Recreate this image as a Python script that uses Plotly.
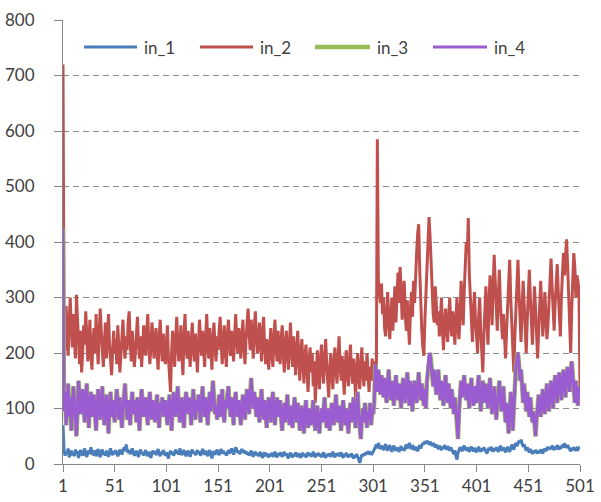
import plotly.graph_objects as go

# ---- data ----
in_1 = [
    70, 25, 15, 22, 18, 28, 12, 20, 24, 16,
    21, 14, 26, 19, 23, 11, 18, 25, 20, 15,
    22, 28, 17, 13, 21, 24, 18, 30, 22, 16,
    19, 25, 14, 20, 27, 18, 12, 22, 26, 17,
    21, 15, 24, 19, 13, 22, 28, 20, 16, 23,
    18, 25, 21, 14, 19, 26, 22, 17, 24, 30,
    23, 35, 27, 20, 25, 18, 22, 28, 21, 15,
    19, 24, 17, 13, 21, 26, 18, 22, 15, 20,
    25, 19, 14, 22, 17, 11, 20, 24, 18, 23,
    16, 21, 27, 19, 14, 22, 18, 25, 20, 15,
    21, 17, 10, 19, 24, 18, 22, 15, 20, 26,
    19, 23, 17, 28, 21, 16, 22, 25, 18, 14,
    20, 24, 18, 13, 21, 26, 19, 22, 16, 20,
    25, 18, 23, 15, 20, 27, 21, 17, 24, 19,
    14, 21, 25, 18, 10, 19, 23, 17, 22, 26,
    20, 16, 22, 27, 19, 24, 18, 21, 15, 20,
    25, 19, 23, 28, 22, 17, 24, 30, 26, 20,
    24, 18, 22, 27, 21, 25, 19, 23, 17, 21,
    15, 20, 24, 18, 13, 19, 22, 16, 20, 14,
    18, 22, 15, 11, 17, 21, 14, 19, 16, 12,
    18, 15, 20, 13, 17, 22, 16, 12, 19, 15,
    21, 17, 13, 18, 22, 15, 19, 14, 10, 17,
    20, 16, 12, 18, 14, 21, 17, 13, 19, 15,
    11, 17, 20, 14, 18, 12, 16, 21, 15, 19,
    13, 17, 22, 16, 12, 19, 15, 20, 14, 18,
    12, 17, 21, 15, 11, 18, 14, 19, 16, 13,
    18, 22, 16, 12, 19, 15, 20, 14, 17, 21,
    15, 11, 18, 14, 20, 16, 12, 17, 13, 19,
    15, 10, 16, 12, 18, 14, 8, 2, 12, 17,
    14, 19, 16, 21, 18, 23, 20, 17, 22, 19,
    22, 26, 30, 35, 28, 38, 32, 27, 33, 29,
    25, 31, 36, 28, 24, 30, 34, 27, 22, 29,
    33, 27, 24, 30, 26, 22, 28, 32, 25, 29,
    24, 30, 35, 28, 33, 38, 31, 27, 34, 29,
    25, 31, 27, 23, 29, 34, 28, 32, 38, 35,
    41, 37, 42, 38, 35, 40, 36, 33, 38, 34,
    30, 35, 31, 27, 33, 29, 25, 31, 28, 34,
    30, 26, 32, 28, 24, 30, 27, 22, 18, 25,
    14, 8, 20, 26, 30, 27, 23, 29, 33, 28,
    24, 30, 26, 22, 28, 31, 27, 23, 29, 25,
    21, 27, 31, 26, 22, 28, 24, 30, 27, 23,
    19, 25, 29, 24, 31, 27, 22, 28, 25, 30,
    26, 22, 28, 33, 27, 24, 30, 26, 21, 27,
    31, 25, 22, 28, 35, 30, 26, 33, 38, 32,
    36, 42, 38, 44, 37, 31, 35, 28, 24, 30,
    26, 21, 27, 23, 18, 24, 20, 25, 22, 19,
    24, 20, 26, 22, 19, 25, 28, 23, 27, 31,
    26, 30, 27, 33, 29, 25, 31, 27, 34, 30,
    26, 32, 28, 35, 30, 37, 33, 29, 34, 31,
    27, 23, 29, 25, 30, 27, 24, 28, 26, 29,
    27,
]

in_2 = [
    720, 240, 205, 285, 230, 195, 260, 300, 245, 210,
    270, 225, 190, 305, 255, 215, 180, 240, 165, 200,
    250, 215, 275, 230, 185, 210, 260, 195, 170, 225,
    245, 200, 270, 215, 180, 235, 280, 240, 200, 175,
    215, 255, 190, 230, 270, 215, 185, 160, 205, 240,
    200, 225, 180, 250, 210, 165, 195, 235, 260, 215,
    190, 230, 205, 255, 275, 220, 185, 240, 210, 175,
    200, 245, 265, 215, 190, 230, 175, 205, 250, 225,
    195, 240, 270, 215, 180, 210, 255, 230, 190, 220,
    245, 200, 170, 225, 260, 215, 185, 235, 205, 180,
    215, 250, 190, 160, 130, 200, 240, 210, 175, 225,
    265, 220, 185, 205, 250, 195, 160, 230, 270, 215,
    190, 240, 205, 175, 220, 255, 210, 185, 235, 200,
    165, 215, 260, 225, 195, 240, 205, 175, 230, 270,
    215, 190, 245, 200, 170, 225, 255, 210, 185, 230,
    205, 240, 265, 215, 180, 225, 250, 200, 175, 235,
    260, 220, 195, 240, 210, 185, 230, 270, 225, 200,
    245, 215, 190, 235, 260, 210, 180, 225, 250, 280,
    235, 205, 260, 220, 190, 245, 275, 230, 200, 215,
    255, 220, 185, 240, 265, 210, 180, 225, 200, 170,
    215, 245, 200, 175, 230, 260, 210, 185, 240, 205,
    180, 225, 250, 200, 165, 215, 240, 195, 170, 220,
    255, 205, 175, 230, 195, 160, 210, 240, 190, 150,
    200, 225, 180, 145, 195, 215, 170, 130, 185, 210,
    165, 200, 140, 185, 110, 175, 205, 160, 135, 190,
    215, 170, 145, 190, 225, 180, 150, 120, 175, 200,
    160, 135, 185, 210, 170, 145, 190, 230, 175, 150,
    195, 165, 125, 180, 205, 160, 140, 185, 215, 170,
    145, 190, 160, 120, 175, 200, 155, 135, 180, 210,
    165, 140, 185, 150, 200, 170, 130, 175, 150, 190,
    170, 150, 185, 140, 585, 330, 310, 290, 325, 270,
    300, 245, 230, 280, 310, 255, 225, 265, 300, 240,
    280, 320, 255, 300, 345, 290, 355, 315, 260, 300,
    330, 270, 240, 295, 250, 215, 275, 310, 265, 330,
    290, 345, 380, 415, 432, 350, 280, 240, 210, 195,
    260, 310, 360, 400, 445, 410, 350, 300, 270, 255,
    320, 290, 250, 275, 230, 260, 300, 240, 205, 255,
    280, 240, 220, 265, 300, 250, 230, 275, 245, 215,
    260, 300, 245, 225, 270, 330, 295, 250, 310, 360,
    400, 380, 443, 340, 290, 250, 220, 280, 310, 255,
    230, 200, 265, 300, 240, 190, 165, 230, 280, 320,
    260, 215, 290, 340, 300, 250, 320, 377, 330, 275,
    240, 300, 350, 290, 250, 225, 270, 210, 190, 240,
    280, 330, 368, 300, 250, 200, 165, 230, 290, 340,
    368, 310, 260, 220, 280, 330, 290, 240, 200, 260,
    310, 350, 300, 250, 215, 270, 320, 280, 235, 190,
    240, 290, 330, 280, 230, 260, 310, 270, 225, 250,
    300, 340, 370, 320, 280, 240, 290, 330, 360, 310,
    270, 230, 300, 350, 380, 340, 390, 405, 360, 300,
    250, 200, 280, 340, 380, 355, 300, 340, 330, 310,
    140,
]

in_3 = [
    425, 95, 130, 70, 110, 145, 85, 120, 60, 100,
    140, 115, 75, 50, 95, 150, 125, 90, 110, 135,
    100, 75, 120, 145, 95, 65, 110, 130, 85, 105,
    125, 90, 60, 100, 135, 115, 80, 105, 140, 95,
    70, 110, 125, 90, 55, 100, 130, 85, 115, 95,
    75, 105, 135, 110, 80, 120, 95, 65, 100, 125,
    145, 105, 80, 115, 95, 70, 110, 130, 90, 115,
    100, 75, 120, 95, 60, 105, 135, 110, 85, 100,
    120, 90, 70, 110, 130, 95, 80, 115, 100, 75,
    105, 125, 90, 65, 110, 95, 120, 85, 100, 115,
    90, 70, 105, 125, 95, 60, 100, 130, 110, 85,
    115, 140, 100, 75, 95, 120, 85, 65, 105, 130,
    110, 90, 120, 95, 70, 105, 135, 100, 80, 115,
    95, 125, 105, 75, 115, 140, 100, 85, 120, 95,
    70, 110, 130, 95, 115, 150, 120, 90, 105, 80,
    100, 125, 85, 110, 135, 95, 75, 115, 100, 125,
    140, 105, 85, 120, 95, 70, 110, 130, 100, 85,
    115, 95, 70, 105, 125, 100, 80, 115, 135, 110,
    90, 125, 155, 120, 100, 130, 110, 85, 120, 95,
    75, 110, 135, 100, 80, 115, 95, 65, 105, 120,
    95, 75, 110, 130, 90, 70, 105, 120, 85, 100,
    115, 80, 60, 95, 110, 75, 100, 125, 90, 70,
    105, 85, 65, 100, 120, 90, 75, 110, 95, 60,
    85, 105, 75, 55, 95, 115, 80, 65, 100, 85,
    70, 95, 115, 80, 60, 90, 105, 75, 55, 85,
    100, 75, 95, 120, 85, 65, 100, 80, 60, 90,
    110, 85, 70, 100, 125, 90, 75, 105, 80, 60,
    95, 115, 85, 70, 100, 80, 55, 90, 110, 75,
    95, 120, 85, 65, 100, 130, 90, 70, 45, 80,
    100, 75, 110, 90, 65, 95, 80, 110, 70, 95,
    90, 110, 180, 150, 130, 170, 145, 125, 160, 140,
    120, 155, 135, 110, 145, 170, 130, 115, 150, 125,
    105, 140, 160, 130, 115, 145, 120, 100, 135, 155,
    125, 110, 140, 165, 130, 105, 150, 120, 95, 135,
    150, 125, 110, 140, 165, 135, 115, 145, 120, 105,
    135, 100, 150, 175, 195, 200, 185, 160, 140, 170,
    150, 125, 145, 170, 135, 115, 150, 130, 105, 140,
    160, 130, 110, 145, 125, 100, 135, 115, 90, 120,
    100, 75, 45, 95, 130, 150, 120, 140, 160, 130,
    115, 145, 125, 100, 135, 155, 120, 105, 140, 125,
    110, 140, 160, 130, 95, 120, 150, 135, 110, 145,
    125, 100, 130, 155, 120, 90, 115, 140, 110, 80,
    105, 130, 150, 120, 95, 115, 140, 100, 75, 110,
    85, 55, 90, 130, 110, 60, 100, 150, 175, 190,
    201, 180, 150, 170, 135, 110, 145, 120, 95, 130,
    110, 85, 120, 100, 75, 95, 65, 50, 80, 110,
    125, 100, 85, 115, 135, 105, 90, 120, 145, 110,
    95, 130, 150, 120, 100, 140, 160, 130, 110, 150,
    165, 135, 115, 150, 170, 140, 120, 160, 175, 150,
    130, 165, 185, 160, 135, 110, 150, 125, 105, 140,
    125,
]

in_4 = [
    425, 95, 130, 70, 110, 145, 85, 120, 60, 100,
    140, 115, 75, 50, 95, 150, 125, 90, 110, 135,
    100, 75, 120, 145, 95, 65, 110, 130, 85, 105,
    125, 90, 60, 100, 135, 115, 80, 105, 140, 95,
    70, 110, 125, 90, 55, 100, 130, 85, 115, 95,
    75, 105, 135, 110, 80, 120, 95, 65, 100, 125,
    145, 105, 80, 115, 95, 70, 110, 130, 90, 115,
    100, 75, 120, 95, 60, 105, 135, 110, 85, 100,
    120, 90, 70, 110, 130, 95, 80, 115, 100, 75,
    105, 125, 90, 65, 110, 95, 120, 85, 100, 115,
    90, 70, 105, 125, 95, 60, 100, 130, 110, 85,
    115, 140, 100, 75, 95, 120, 85, 65, 105, 130,
    110, 90, 120, 95, 70, 105, 135, 100, 80, 115,
    95, 125, 105, 75, 115, 140, 100, 85, 120, 95,
    70, 110, 130, 95, 115, 150, 120, 90, 105, 80,
    100, 125, 85, 110, 135, 95, 75, 115, 100, 125,
    140, 105, 85, 120, 95, 70, 110, 130, 100, 85,
    115, 95, 70, 105, 125, 100, 80, 115, 135, 110,
    90, 125, 155, 120, 100, 130, 110, 85, 120, 95,
    75, 110, 135, 100, 80, 115, 95, 65, 105, 120,
    95, 75, 110, 130, 90, 70, 105, 120, 85, 100,
    115, 80, 60, 95, 110, 75, 100, 125, 90, 70,
    105, 85, 65, 100, 120, 90, 75, 110, 95, 60,
    85, 105, 75, 55, 95, 115, 80, 65, 100, 85,
    70, 95, 115, 80, 60, 90, 105, 75, 55, 85,
    100, 75, 95, 120, 85, 65, 100, 80, 60, 90,
    110, 85, 70, 100, 125, 90, 75, 105, 80, 60,
    95, 115, 85, 70, 100, 80, 55, 90, 110, 75,
    95, 120, 85, 65, 100, 130, 90, 70, 45, 80,
    100, 75, 110, 90, 65, 95, 80, 110, 70, 95,
    90, 110, 180, 150, 130, 170, 145, 125, 160, 140,
    120, 155, 135, 110, 145, 170, 130, 115, 150, 125,
    105, 140, 160, 130, 115, 145, 120, 100, 135, 155,
    125, 110, 140, 165, 130, 105, 150, 120, 95, 135,
    150, 125, 110, 140, 165, 135, 115, 145, 120, 105,
    135, 100, 150, 175, 195, 200, 185, 160, 140, 170,
    150, 125, 145, 170, 135, 115, 150, 130, 105, 140,
    160, 130, 110, 145, 125, 100, 135, 115, 90, 120,
    100, 75, 45, 95, 130, 150, 120, 140, 160, 130,
    115, 145, 125, 100, 135, 155, 120, 105, 140, 125,
    110, 140, 160, 130, 95, 120, 150, 135, 110, 145,
    125, 100, 130, 155, 120, 90, 115, 140, 110, 80,
    105, 130, 150, 120, 95, 115, 140, 100, 75, 110,
    85, 55, 90, 130, 110, 60, 100, 150, 175, 190,
    201, 180, 150, 170, 135, 110, 145, 120, 95, 130,
    110, 85, 120, 100, 75, 95, 65, 50, 80, 110,
    125, 100, 85, 115, 135, 105, 90, 120, 145, 110,
    95, 130, 150, 120, 100, 140, 160, 130, 110, 150,
    165, 135, 115, 150, 170, 140, 120, 160, 175, 150,
    130, 165, 185, 160, 135, 110, 150, 125, 105, 140,
    125,
]

x_idx = list(range(1, len(in_1) + 1))
tick_vals = [1, 51, 101, 151, 201, 251, 301, 351, 401, 451, 501]
tick_text = [str(v) for v in tick_vals]
y_ticks = [0, 100, 200, 300, 400, 500, 600, 700, 800]
series_names = ["in_1", "in_2", "in_3", "in_4"]

colors = ["#4A7EBB", "#C0504D", "#9BBB59", "#9B5CD2"]
widths = [3.0, 3.0, 4.5, 3.0]
series_vals = [in_1, in_2, in_3, in_4]

fig = go.Figure()
for name, vals, color, w in zip(series_names, series_vals, colors, widths):
    fig.add_trace(go.Scatter(
        x=x_idx, y=vals, mode="lines", name=name,
        line=dict(color=color, width=w), showlegend=False,
    ))

font = dict(family="Lato, 'Open Sans', sans-serif", size=17, color="#404040")

# legend drawn as a row inside the plot area (long line samples like the original)
L, R, T, B = 63, 21, 20, 38
W, H = 601, 502
pw, ph = W - L - R, H - T - B
leg_y_px = 47
leg_line_px = [(84, 137), (200, 253), (315, 370), (433, 487)]
shapes, annotations = [], []
for name, color, w, (x0, x1) in zip(series_names, colors, widths, leg_line_px):
    yp = 1 - (leg_y_px - T) / ph
    shapes.append(dict(type="line", xref="paper", yref="paper",
                       x0=(x0 - L) / pw, x1=(x1 - L) / pw, y0=yp, y1=yp,
                       line=dict(color=color, width=w)))
    annotations.append(dict(xref="paper", yref="paper", x=(x1 + 5 - L) / pw, y=yp,
                            xanchor="left", yanchor="middle", text=name,
                            showarrow=False, font=font))

fig.update_layout(
    width=W, height=H,
    margin=dict(l=L, r=R, t=T, b=B),
    paper_bgcolor="white", plot_bgcolor="white",
    font=font, showlegend=False,
    shapes=shapes, annotations=annotations,
)
fig.update_xaxes(
    type="linear", range=[1, 501], tickmode="array",
    tickvals=tick_vals, ticktext=tick_text,
    showgrid=False, zeroline=False, automargin=False,
    showline=True, linecolor="#868686", linewidth=1,
    ticks="outside", ticklen=7, tickcolor="#868686",
    tickfont=font,
)
fig.update_yaxes(
    range=[0, 800], tickmode="array", tickvals=y_ticks,
    showgrid=True, gridcolor="#8C8C8C", gridwidth=1, griddash="6px,4px",
    zeroline=False, automargin=False,
    showline=True, linecolor="#868686", linewidth=1,
    ticks="outside", ticklen=8, tickcolor="#868686",
    tickfont=font, ticklabelstandoff=16,
)

fig.write_html(
    "out.html",
    config={"displayModeBar": False},
    post_script="document.body.style.margin='0';document.body.style.overflow='hidden';",
)
